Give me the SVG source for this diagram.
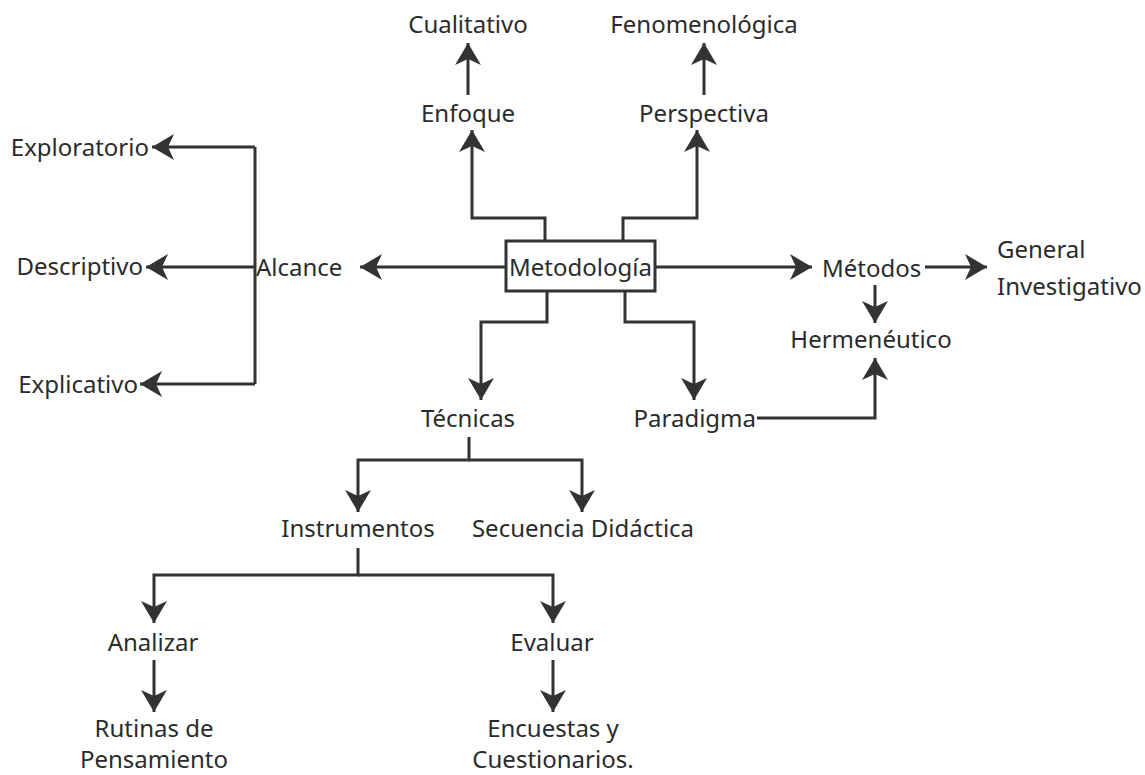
<svg xmlns="http://www.w3.org/2000/svg" width="1145" height="775" viewBox="0 0 1145 775">
<defs>
<style>
text{font-family:"Noto Sans","Open Sans","DejaVu Sans",sans-serif;font-size:24px;fill:#2b2b2b}
.m{text-anchor:middle}
.e{text-anchor:end}
.c{fill:none;stroke:#333;stroke-width:3}
.a{marker-end:url(#ah)}
</style>
<marker id="ah" viewBox="-24 -15 30 30" refX="0" refY="0" markerWidth="30" markerHeight="30" markerUnits="userSpaceOnUse" orient="auto">
<path d="M0,0 L-22,-13 L-16,0 L-22,13 Z" fill="#333"/>
</marker>
</defs>
<rect width="1145" height="775" fill="#fff"/>
<g id="connectors">
<path class="c a" d="M545,241 V218 H472 V130"/>
<path class="c a" d="M468,95 V43"/>
<path class="c a" d="M623,241 V218 H697 V130"/>
<path class="c a" d="M704,95 V43"/>
<path class="c a" d="M506,267 H360"/>
<path class="c" d="M255,147 V384"/>
<path class="c a" d="M255,147 H152"/>
<path class="c a" d="M255,267 H146"/>
<path class="c a" d="M255,384 H140"/>
<path class="c a" d="M655,267 H812"/>
<path class="c a" d="M925,267 H987"/>
<path class="c a" d="M875,285 V323"/>
<path class="c a" d="M757,418 H875 V358"/>
<path class="c a" d="M625,291 V322 H694 V400"/>
<path class="c a" d="M547,291 V322 H481 V400"/>
<path class="c a" d="M469,437 V460 H358 V512"/>
<path class="c a" d="M469,460 H582 V512"/>
<path class="c a" d="M358,548 V575 H154 V623"/>
<path class="c a" d="M358,575 H553 V623"/>
<path class="c a" d="M154,660 V712"/>
<path class="c a" d="M553,660 V712"/>
</g>
<g id="metodologia"><rect x="506" y="241" width="149" height="50" fill="#fff" stroke="#333" stroke-width="3"/><text class="m" x="580.5" y="276">Metodología</text></g>
<g id="cualitativo"><text class="m" x="468" y="33">Cualitativo</text></g>
<g id="fenomenologica"><text class="m" x="704" y="33">Fenomenológica</text></g>
<g id="enfoque"><text class="m" x="468" y="122">Enfoque</text></g>
<g id="perspectiva"><text class="m" x="704" y="122">Perspectiva</text></g>
<g id="exploratorio"><text class="e" x="149" y="156">Exploratorio</text></g>
<g id="descriptivo"><text class="e" x="143" y="275">Descriptivo</text></g>
<g id="explicativo"><text class="e" x="138" y="393">Explicativo</text></g>
<g id="alcance"><text x="256" y="276">Alcance</text></g>
<g id="metodos"><text x="822" y="277">Métodos</text></g>
<g id="general"><text x="997" y="258">General</text><text x="997" y="295">Investigativo</text></g>
<g id="hermeneutico"><text class="m" x="871" y="348">Hermenéutico</text></g>
<g id="tecnicas"><text class="m" x="468" y="427">Técnicas</text></g>
<g id="paradigma"><text class="e" x="756" y="427">Paradigma</text></g>
<g id="instrumentos"><text class="m" x="358" y="537">Instrumentos</text></g>
<g id="secuencia"><text class="m" x="583" y="537">Secuencia Didáctica</text></g>
<g id="analizar"><text class="m" x="153" y="651">Analizar</text></g>
<g id="evaluar"><text class="m" x="552" y="651">Evaluar</text></g>
<g id="rutinas"><text class="m" x="154" y="737">Rutinas de</text><text class="m" x="154" y="768">Pensamiento</text></g>
<g id="encuestas"><text class="m" x="553" y="737">Encuestas y</text><text class="m" x="553" y="768">Cuestionarios.</text></g>
</svg>
